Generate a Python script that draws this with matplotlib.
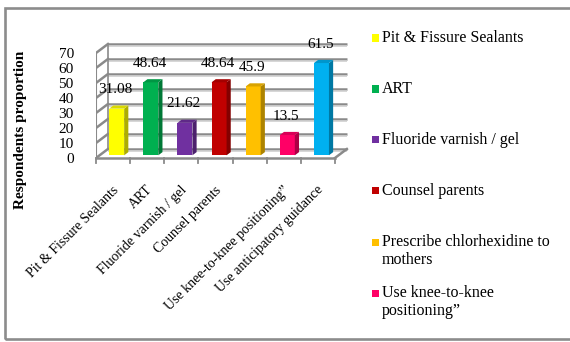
import numpy as np
import matplotlib.pyplot as plt
from matplotlib.patches import Polygon, Rectangle
from matplotlib.colors import to_rgb

plt.rcParams['font.family'] = ['Liberation Serif', 'DejaVu Serif']

categories = ['Pit & Fissure Sealants', 'ART', 'Fluoride varnish / gel',
              'Counsel parents', 'Prescribe chlorhexidine to mothers',
              'Use knee-to-knee positioning\u201d', 'Use anticipatory guidance']
values = [31.08, 48.64, 21.62, 48.64, 45.9, 13.5, 61.5]
colors = ['#FFFF00', '#00B050', '#7030A0', '#C00000', '#FFC000', '#FF0066', '#00B0F0']
# axis labels (the long chlorhexidine one is dropped on the axis)
tick_labels = ['Pit & Fissure Sealants', 'ART', 'Fluoride varnish / gel',
               'Counsel parents', '', 'Use knee-to-knee positioning\u201d',
               'Use anticipatory guidance']
legend_labels = ['Pit & Fissure Sealants', 'ART', 'Fluoride varnish / gel',
                 'Counsel parents', 'Prescribe chlorhexidine to\nmothers',
                 'Use knee-to-knee\npositioning\u201d', 'Use anticipatory guidance']
yticks = [0, 10, 20, 30, 40, 50, 60, 70]

W, H = 570, 342
FRAME_BOTTOM = 339
DX, DY = 0.35, 6.0      # depth of the box in data units
GRID = '#8a8a8a'


def shade(c, f):
    r, g, b = to_rgb(c)
    return (r * f, g * f, b * f)


fig = plt.figure(figsize=(W / 100, H / 100), dpi=100)

# outer frame
fig.patches.append(Rectangle((5 / W, 1 - FRAME_BOTTOM / H), 600 / W, 331 / H,
                             transform=fig.transFigure, fill=False,
                             ec='#8c8c8c', lw=1.9))

ax = fig.add_axes([96 / W, (H - 158) / H, 256 / W, 120 / H])
ax.set_xlim(0.5, 8.0)
ax.set_ylim(0, 80)
for s in ax.spines.values():
    s.set_visible(False)
ax.set_xticks([])
ax.set_yticks(yticks)
ax.set_yticklabels([str(t) for t in yticks], fontsize=11)
ax.tick_params(axis='y', length=0, pad=16)

n = len(values)
x0, x1 = 0.5, n + 0.5

# back wall and left wall grid
for t in yticks:
    ax.plot([x0 + DX, x1 + DX], [t + DY, t + DY], color=GRID, lw=1.8,
            zorder=1, solid_capstyle='butt')
    ax.plot([x0 + DX, x1 + DX], [t + DY - 1.1, t + DY - 1.1], color='#cfcfcf',
            lw=1.2, zorder=1, solid_capstyle='butt')
    ax.plot([x0, x0 + DX], [t, t + DY], color=GRID, lw=1.8, zorder=1)
ax.plot([x0, x0], [0, yticks[-1]], color=GRID, lw=1.5, zorder=1)
ax.plot([x0 + DX, x0 + DX], [DY, yticks[-1] + DY], color=GRID, lw=1.2, zorder=1)

# floor edges and category ticks
ax.plot([x0, x1], [0, 0], color=GRID, lw=1.8, zorder=1, clip_on=False)
ax.plot([x1, x1 + DX], [0, DY], color=GRID, lw=1.8, zorder=1)
for b in np.arange(x0, x1 + 0.01, 1.0):
    ax.plot([b, b], [0, -3], color=GRID, lw=1.3, clip_on=False)

# bars
bw = 0.44
k0, kd = 0.3, 0.35
for i, (v, c) in enumerate(zip(values, colors)):
    xc = i + 1
    fx0 = xc - bw / 2 + k0 * DX
    fx1 = xc + bw / 2 + k0 * DX
    fy0 = k0 * DY
    fy1 = v + k0 * DY
    ox, oy = kd * DX, kd * DY
    ax.add_patch(Polygon([(fx0, fy0), (fx1, fy0), (fx1, fy1), (fx0, fy1)],
                         closed=True, fc=c, ec='none', zorder=3))
    ax.add_patch(Polygon([(fx1, fy0), (fx1 + ox, fy0 + oy), (fx1 + ox, fy1 + oy),
                          (fx1, fy1)], closed=True, fc=shade(c, 0.68), ec='none',
                         zorder=3))
    ax.add_patch(Polygon([(fx0, fy1), (fx1, fy1), (fx1 + ox, fy1 + oy),
                          (fx0 + ox, fy1 + oy)], closed=True, fc=shade(c, 0.85),
                         ec='none', zorder=3))
    ax.text(xc + 0.07, v + 14.5, f'{v:g}', ha='center', va='center',
            fontsize=11, zorder=4)

# rotated category labels
for i, lab in enumerate(tick_labels):
    ax.text(i + 1.1, -20, lab, rotation=45, rotation_mode='anchor',
            ha='right', va='center', fontsize=10)

fig.text(21 / W, 1 - 130 / H, 'Respondents proportion', rotation=90,
         ha='center', va='center', fontsize=11, fontweight='bold')

# legend, entries that run past the frame are not shown
for i, (lab, c) in enumerate(zip(legend_labels, colors)):
    yc = 38 + 51 * i
    if yc + 8 > FRAME_BOTTOM:
        break
    fig.patches.append(Rectangle((372 / W, 1 - (yc + 3.5) / H), 7 / W, 7 / H,
                                 transform=fig.transFigure, fc=c, ec='none'))
    for j, line in enumerate(lab.split('\n')):
        fig.text(382 / W, 1 - (yc + 18 * j) / H, line, ha='left',
                 va='center', fontsize=11.5)

fig.savefig('out.png', dpi=100, facecolor='white')
